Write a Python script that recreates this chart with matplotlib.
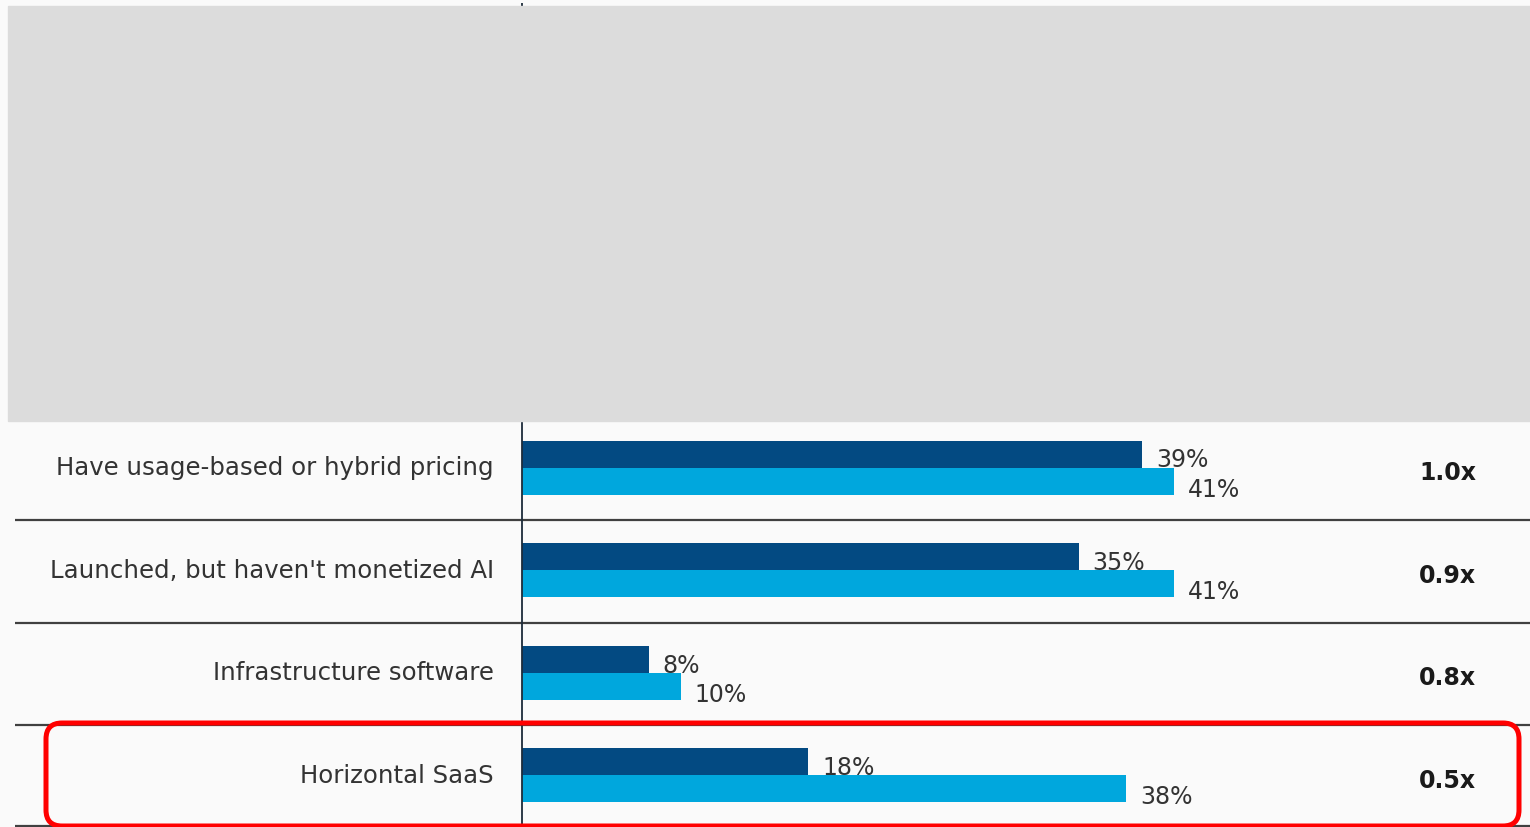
import matplotlib.pyplot as plt
from matplotlib.patches import Rectangle, FancyBboxPatch
from matplotlib.transforms import IdentityTransform

# Chart data
categories = ["Have usage-based or hybrid pricing",
              "Launched, but haven't monetized AI",
              "Infrastructure software",
              "Horizontal SaaS"]
dark_vals = [39, 35, 8, 18]
light_vals = [41, 41, 10, 38]
ratios = ["1.0x", "0.9x", "0.8x", "0.5x"]

dark_color = '#034a82'
light_color = '#00a7dd'
text_color = '#333333'

W, H = 1530, 828
PX = 15.92        # pixels per percent
X0 = 521.5        # pixel position of the zero line
ROW = 102.6       # pixels per row
Y0 = 468.5        # pixel position of first row centre

fig = plt.figure(figsize=(W / 100, H / 100), dpi=100)
fig.patch.set_facecolor('#fafafa')
ax = fig.add_axes([0, 0, 1, 1])
ax.set_facecolor('#fafafa')
ax.set_xlim(-X0 / PX, (W - X0) / PX)
ax.set_ylim((H - Y0) / ROW, -Y0 / ROW)
ax.axis('off')

# grey block covering the top part
ax.add_patch(Rectangle((8 / W, 1 - 422 / H), (W - 8) / W, (422 - 7) / H,
                       transform=ax.transAxes, color='#dcdcdc', zorder=5))

# bars
h = 27 / ROW
rows = range(len(categories))
ax.barh([i - h / 2 for i in rows], dark_vals, height=h, color=dark_color, zorder=3)
ax.barh([i + h / 2 for i in rows], light_vals, height=h, color=light_color, zorder=3)

# zero line and row separators
ax.vlines(0, (4 - Y0) / ROW, (H - Y0) / ROW, color='#1d2b3a', lw=1.3, zorder=4)
sep_px = [521, 623.5, 725.5, 826.5]
ax.hlines([(p - Y0) / ROW for p in sep_px], (15 - X0) / PX, (W - X0) / PX,
          color='#404040', lw=1.6, zorder=1)

gap = 14 / PX
for i in rows:
    ax.text(dark_vals[i] + gap, i - 0.01, f"{dark_vals[i]}%", fontsize=17,
            color=text_color, ha='left', va='baseline', zorder=6)
    ax.text(light_vals[i] + gap, i + h + 0.01, f"{light_vals[i]}%", fontsize=17,
            color=text_color, ha='left', va='baseline', zorder=6)
    ax.text((494 - X0) / PX, i + 0.065, categories[i], fontsize=17.6,
            color=text_color, ha='right', va='baseline', zorder=6)
    ax.text((1476 - X0) / PX, i + 0.115, ratios[i], fontsize=17, fontweight='bold',
            color='#1a1a1a', ha='right', va='baseline', zorder=6)

# red highlight around the last row
box = FancyBboxPatch((46, H - 827), 1473, 103,
                     boxstyle="round,pad=0,rounding_size=16",
                     transform=IdentityTransform(), fill=False,
                     edgecolor='#ff0000', lw=3.6, zorder=7)
fig.add_artist(box)

fig.savefig('out.png', dpi=100, facecolor=fig.get_facecolor())
